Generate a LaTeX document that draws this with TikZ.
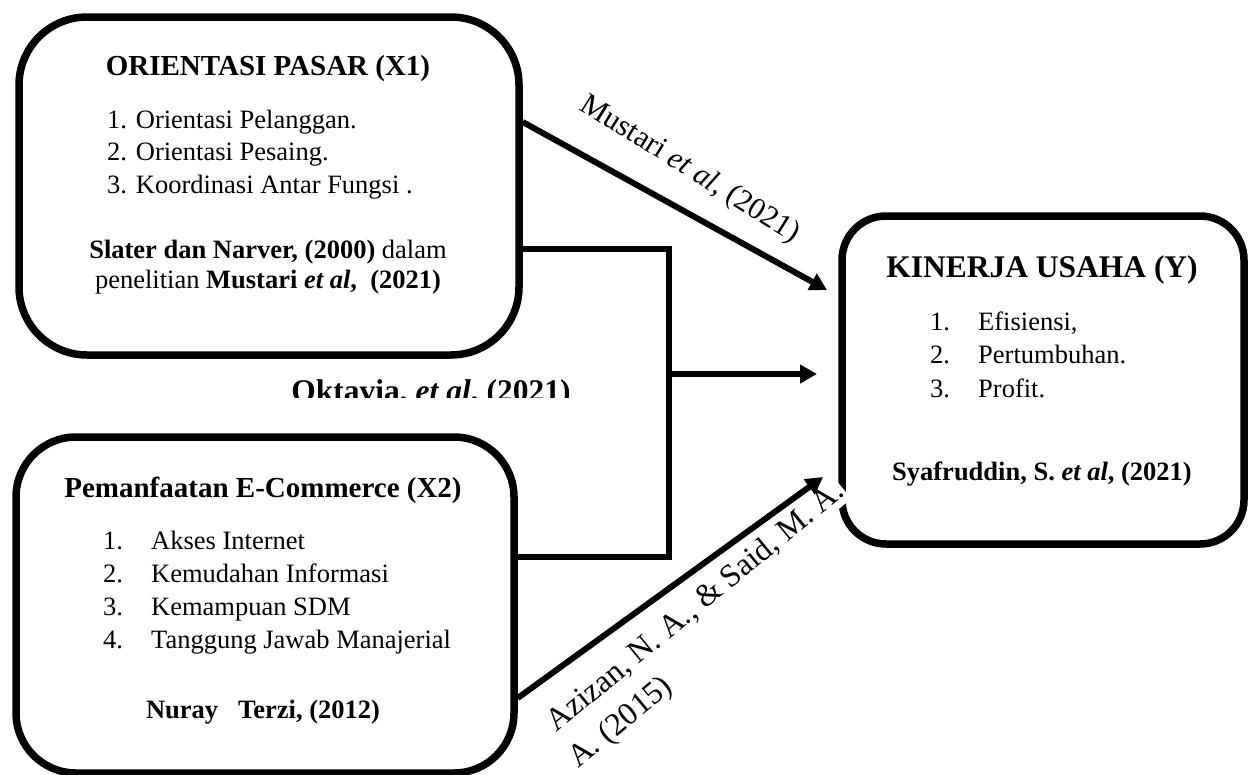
\documentclass[tikz,border=0pt]{standalone}
\usepackage{fontspec}
\setmainfont{Liberation Serif}
\usetikzlibrary{arrows.meta}

\newcommand{\hdsize}{\fontsize{29}{35}\selectfont\bfseries}
\newcommand{\bdsize}{\fontsize{26.5}{32.5}\selectfont}
\newcommand{\lblsize}{\fontsize{30.5}{36}\selectfont}

\tikzset{
  varbox/.style={draw, line width=7.5pt, inner sep=0pt},
  txt/.style={inner sep=0pt},
  link/.style={line width=6pt},
  arr/.style={link, -{Triangle[length=17pt,width=18pt]}},
}

\begin{document}
\begin{tikzpicture}[x=1pt,y=-1pt]
  \useasboundingbox (0,0) rectangle (1253,774);

  % the three variable boxes
  \node[varbox, rounded corners=68pt, minimum width=500pt, minimum height=338pt] (x1) at (269,186) {};
  \node[varbox, rounded corners=60pt, minimum width=498pt, minimum height=336pt] (x2) at (265,605) {};
  \node[varbox, rounded corners=44pt, minimum width=402pt, minimum height=328pt] (y) at (1043,380) {};

  % X1 (multi-line nodes sit on their last baseline)
  \node[txt, anchor=base, font=\hdsize] (x1head) at (268,75) {ORIENTASI PASAR (X1)};
  \node[txt, anchor=base west, align=left, font=\bdsize] (x1list) at (107,193)
    {1. Orientasi Pelanggan.\\ 2. Orientasi Pesaing.\\ 3. Koordinasi Antar Fungsi .};
  \node[txt, anchor=base, align=center, font=\fontsize{26.5}{30}\selectfont] (x1cite) at (268,288)
    {\textbf{Slater dan Narver, (2000)} dalam\\ penelitian \textbf{Mustari \textit{et al},~~(2021)}};

  % X2
  \node[txt, anchor=base, font=\hdsize] (x2head) at (263,497) {Pemanfaatan E-Commerce (X2)};
  \node[txt, anchor=base west, align=left, font=\fontsize{26.5}{32.7}\selectfont] (x2list) at (103,648)
    {\makebox[48pt][l]{1.}Akses Internet\\ \makebox[48pt][l]{2.}Kemudahan Informasi\\
     \makebox[48pt][l]{3.}Kemampuan SDM\\ \makebox[48pt][l]{4.}Tanggung Jawab Manajerial};
  \node[txt, anchor=base, font=\bdsize\bfseries] (x2cite) at (263,718) {Nuray~~~Terzi, (2012)};

  % Y
  \node[txt, anchor=base, font=\fontsize{31.5}{36}\selectfont\bfseries] (yhead) at (1042,277) {KINERJA USAHA (Y)};
  \node[txt, anchor=base west, align=left, font=\fontsize{26.5}{33.5}\selectfont] (ylist) at (930,397)
    {\makebox[48pt][l]{1.}Efisiensi,\\ \makebox[48pt][l]{2.}Pertumbuhan.\\ \makebox[48pt][l]{3.}Profit.};
  \node[txt, anchor=base, font=\bdsize\bfseries] (ycite) at (1042,480) {Syafruddin, S. \textit{et al}, (2021)};

  % citation labels on the links
  \begin{scope}
    \clip (250,370) rectangle (620,397);
    \node[txt, anchor=base, font=\fontsize{31.5}{36}\selectfont\bfseries] (okt) at (431,401) {Oktavia, \textit{et al}, (2021)};
  \end{scope}
  \node[txt, anchor=base, rotate=-32, font=\lblsize] (lbl1) at (686,176) {Mustari \textit{et al}, (2021)};
  \node[anchor=base west, rotate=39.5, fill=white, inner sep=2pt, font=\fontsize{32}{38}\selectfont] (lbl2a) at (555,734) {Azizan, N. A., \& Said, M. A.};
  \node[txt, anchor=base west, rotate=39.5, font=\fontsize{32}{38}\selectfont] (lbl2b) at (578,769) {A. (2015)};

  % links
  \coordinate (tipA) at (827,290);
  \coordinate (join) at (669,374);
  \coordinate (tipB) at (817,374);
  \coordinate (tipC) at (823,477);
  \draw[arr] ([yshift=64pt]x1.east) -- (tipA);
  \draw[link] ([yshift=-63pt]x1.east) -| (join) |- ([yshift=48pt]x2.east);
  \draw[arr] (join) -- (tipB);
  \draw[arr] ([yshift=-93pt]x2.east) -- (tipC);
\end{tikzpicture}
\end{document}
